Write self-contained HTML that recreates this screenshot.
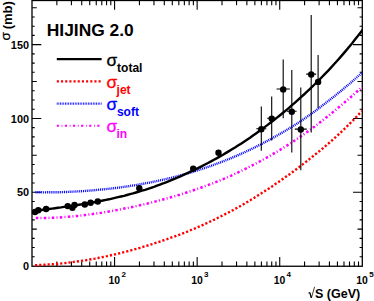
<!DOCTYPE html>
<html><head><meta charset="utf-8"><title>HIJING 2.0</title>
<style>html,body{margin:0;padding:0;background:#fff}body{width:374px;height:301px;overflow:hidden;font-family:"Liberation Sans",sans-serif}svg{display:block}</style></head>
<body>
<svg width="374" height="301" viewBox="0 0 374 301">
<rect x="0" y="0" width="374" height="301" fill="#fff"/>
<clipPath id="c"><rect x="32.0" y="0.5" width="330.30" height="266.45"/></clipPath>
<g stroke="#000" fill="none">
<rect x="32.0" y="0.5" width="330.30" height="265.75" stroke-width="1.3"/>
<path d="M56.86,266.25v-4.8M56.86,0.5v4.8M71.40,266.25v-4.8M71.40,0.5v4.8M81.72,266.25v-4.8M81.72,0.5v4.8M89.72,266.25v-4.8M89.72,0.5v4.8M96.26,266.25v-4.8M96.26,0.5v4.8M101.78,266.25v-4.8M101.78,0.5v4.8M106.57,266.25v-4.8M106.57,0.5v4.8M110.80,266.25v-4.8M110.80,0.5v4.8M114.58,266.25v-9.3M114.58,0.5v9.3M139.43,266.25v-4.8M139.43,0.5v4.8M153.97,266.25v-4.8M153.97,0.5v4.8M164.29,266.25v-4.8M164.29,0.5v4.8M172.29,266.25v-4.8M172.29,0.5v4.8M178.83,266.25v-4.8M178.83,0.5v4.8M184.36,266.25v-4.8M184.36,0.5v4.8M189.15,266.25v-4.8M189.15,0.5v4.8M193.37,266.25v-4.8M193.37,0.5v4.8M197.15,266.25v-9.3M197.15,0.5v9.3M222.01,266.25v-4.8M222.01,0.5v4.8M236.55,266.25v-4.8M236.55,0.5v4.8M246.87,266.25v-4.8M246.87,0.5v4.8M254.87,266.25v-4.8M254.87,0.5v4.8M261.41,266.25v-4.8M261.41,0.5v4.8M266.93,266.25v-4.8M266.93,0.5v4.8M271.72,266.25v-4.8M271.72,0.5v4.8M275.95,266.25v-4.8M275.95,0.5v4.8M279.73,266.25v-9.3M279.73,0.5v9.3M304.58,266.25v-4.8M304.58,0.5v4.8M319.12,266.25v-4.8M319.12,0.5v4.8M329.44,266.25v-4.8M329.44,0.5v4.8M337.44,266.25v-4.8M337.44,0.5v4.8M343.98,266.25v-4.8M343.98,0.5v4.8M349.51,266.25v-4.8M349.51,0.5v4.8M354.30,266.25v-4.8M354.30,0.5v4.8M358.52,266.25v-4.8M358.52,0.5v4.8M32.0,256.78h2.7M362.3,256.78h-2.7M32.0,247.55h2.7M362.3,247.55h-2.7M32.0,238.33h2.7M362.3,238.33h-2.7M32.0,229.11h4.8M362.3,229.11h-4.8M32.0,219.88h2.7M362.3,219.88h-2.7M32.0,210.66h2.7M362.3,210.66h-2.7M32.0,201.44h2.7M362.3,201.44h-2.7M32.0,192.22h9.3M362.3,192.22h-9.3M32.0,182.99h2.7M362.3,182.99h-2.7M32.0,173.77h2.7M362.3,173.77h-2.7M32.0,164.55h2.7M362.3,164.55h-2.7M32.0,155.32h4.8M362.3,155.32h-4.8M32.0,146.10h2.7M362.3,146.10h-2.7M32.0,136.88h2.7M362.3,136.88h-2.7M32.0,127.65h2.7M362.3,127.65h-2.7M32.0,118.43h9.3M362.3,118.43h-9.3M32.0,109.21h2.7M362.3,109.21h-2.7M32.0,99.98h2.7M362.3,99.98h-2.7M32.0,90.76h2.7M362.3,90.76h-2.7M32.0,81.54h4.8M362.3,81.54h-4.8M32.0,72.31h2.7M362.3,72.31h-2.7M32.0,63.09h2.7M362.3,63.09h-2.7M32.0,53.87h2.7M362.3,53.87h-2.7M32.0,44.65h9.3M362.3,44.65h-9.3M32.0,35.42h2.7M362.3,35.42h-2.7M32.0,26.20h2.7M362.3,26.20h-2.7M32.0,16.98h2.7M362.3,16.98h-2.7M32.0,7.75h4.8M362.3,7.75h-4.8" stroke-width="1.1"/>
</g>
<g clip-path="url(#c)" fill="none">
<path d="M35.0,265.2L38.0,265.1L41.0,265.0L44.0,264.8L47.0,264.6L50.0,264.4L53.0,264.2L56.0,264.0L59.0,263.7L62.0,263.4L65.0,263.1L68.0,262.7L71.0,262.3L74.0,261.9L77.0,261.5L80.0,261.1L83.0,260.6L86.0,260.2L89.0,259.6L92.0,259.1L95.0,258.6L98.0,258.0L101.0,257.4L104.0,256.8L107.0,256.2L110.0,255.5L113.0,254.8L116.0,254.1L119.0,253.4L122.0,252.7L125.0,251.9L128.0,251.1L131.0,250.3L134.0,249.5L137.0,248.6L140.0,247.8L143.0,246.9L146.0,246.0L149.0,245.1L152.0,244.2L155.0,243.2L158.0,242.2L161.0,241.2L164.0,240.2L167.0,239.2L170.0,238.1L173.0,237.0L176.0,235.9L179.0,234.8L182.0,233.6L185.0,232.5L188.0,231.3L191.0,230.0L194.0,228.8L197.0,227.5L200.0,226.2L203.0,224.9L206.0,223.5L209.0,222.1L212.0,220.7L215.0,219.3L218.0,217.8L221.0,216.3L224.0,214.8L227.0,213.3L230.0,211.7L233.0,210.1L236.0,208.4L239.0,206.8L242.0,205.1L245.0,203.3L248.0,201.6L251.0,199.8L254.0,198.0L257.0,196.1L260.0,194.2L263.0,192.3L266.0,190.3L269.0,188.4L272.0,186.4L275.0,184.3L278.0,182.3L281.0,180.2L284.0,178.1L287.0,176.0L290.0,173.9L293.0,171.7L296.0,169.5L299.0,167.2L302.0,164.9L305.0,162.6L308.0,160.3L311.0,157.9L314.0,155.5L317.0,153.1L320.0,150.7L323.0,148.2L326.0,145.6L329.0,143.0L332.0,140.4L335.0,137.7L338.0,135.0L341.0,132.2L344.0,129.3L347.0,126.4L350.0,123.4L353.0,120.4L356.0,117.3L359.0,114.2L362.0,111.1" stroke="#ff0000" stroke-width="2.4" stroke-dasharray="2.2 2.0"/>
<path d="M35.8,217.9L38.8,218.0L41.8,218.0L44.8,217.9L47.8,217.9L50.8,217.8L53.8,217.7L56.8,217.6L59.8,217.4L62.8,217.2L65.8,217.0L68.8,216.7L71.8,216.5L74.8,216.2L77.8,215.9L80.8,215.5L83.8,215.2L86.8,214.8L89.8,214.4L92.8,214.0L95.8,213.6L98.8,213.1L101.8,212.7L104.8,212.2L107.8,211.7L110.8,211.2L113.8,210.6L116.8,210.1L119.8,209.5L122.8,208.9L125.8,208.3L128.8,207.7L131.8,207.1L134.8,206.4L137.8,205.8L140.8,205.1L143.8,204.4L146.8,203.7L149.8,202.9L152.8,202.2L155.8,201.4L158.8,200.6L161.8,199.8L164.8,199.0L167.8,198.2L170.8,197.3L173.8,196.5L176.8,195.6L179.8,194.7L182.8,193.7L185.8,192.8L188.8,191.8L191.8,190.8L194.8,189.8L197.8,188.7L200.8,187.7L203.8,186.6L206.8,185.5L209.8,184.4L212.8,183.3L215.8,182.1L218.8,180.9L221.8,179.7L224.8,178.4L227.8,177.1L230.8,175.8L233.8,174.4L236.8,173.0L239.8,171.6L242.8,170.1L245.8,168.6L248.8,167.1L251.8,165.6L254.8,164.0L257.8,162.5L260.8,160.9L263.8,159.2L266.8,157.6L269.8,155.9L272.8,154.1L275.8,152.4L278.8,150.6L281.8,148.8L284.8,146.9L287.8,145.0L290.8,143.1L293.8,141.1L296.8,139.1L299.8,137.1L302.8,135.0L305.8,132.9L308.8,130.8L311.8,128.6L314.8,126.4L317.8,124.1L320.8,121.8L323.8,119.5L326.8,117.1L329.8,114.7L332.8,112.3L335.8,109.8L338.8,107.3L341.8,104.8L344.8,102.2L347.8,99.7L350.8,97.1L353.8,94.5L356.8,91.8L359.8,89.2L362.8,86.5" stroke="#ff00ff" stroke-width="2.5" stroke-dasharray="2.5 2.2 1.0 2.3"/>
<path d="M35.5,192.3L38.5,192.3L41.5,192.3L44.5,192.4L47.5,192.3L50.5,192.3L53.5,192.3L56.5,192.2L59.5,192.2L62.5,192.1L65.5,192.0L68.5,191.9L71.5,191.7L74.5,191.6L77.5,191.4L80.5,191.3L83.5,191.1L86.5,190.8L89.5,190.6L92.5,190.4L95.5,190.1L98.5,189.8L101.5,189.5L104.5,189.2L107.5,188.9L110.5,188.6L113.5,188.2L116.5,187.9L119.5,187.5L122.5,187.1L125.5,186.6L128.5,186.2L131.5,185.7L134.5,185.3L137.5,184.8L140.5,184.2L143.5,183.7L146.5,183.1L149.5,182.6L152.5,182.0L155.5,181.4L158.5,180.7L161.5,180.1L164.5,179.4L167.5,178.7L170.5,178.0L173.5,177.2L176.5,176.4L179.5,175.7L182.5,174.8L185.5,174.0L188.5,173.1L191.5,172.3L194.5,171.3L197.5,170.4L200.5,169.4L203.5,168.5L206.5,167.4L209.5,166.4L212.5,165.3L215.5,164.2L218.5,163.1L221.5,162.0L224.5,160.8L227.5,159.6L230.5,158.4L233.5,157.1L236.5,155.8L239.5,154.5L242.5,153.2L245.5,151.8L248.5,150.4L251.5,149.0L254.5,147.5L257.5,146.0L260.5,144.5L263.5,142.9L266.5,141.4L269.5,139.7L272.5,138.1L275.5,136.4L278.5,134.7L281.5,133.0L284.5,131.2L287.5,129.5L290.5,127.6L293.5,125.8L296.5,123.9L299.5,121.9L302.5,120.0L305.5,117.9L308.5,115.8L311.5,113.7L314.5,111.5L317.5,109.3L320.5,107.0L323.5,104.7L326.5,102.4L329.5,100.1L332.5,97.7L335.5,95.4L338.5,92.9L341.5,90.5L344.5,88.0L347.5,85.5L350.5,82.9L353.5,80.3L356.5,77.6L359.5,75.0L362.5,72.3" stroke="#0000ff" stroke-width="2.4" stroke-dasharray="1.0 0.9"/>
<path d="M34.0,211.2L37.0,210.7L40.0,210.3L43.0,209.8L46.0,209.4L49.0,209.0L52.0,208.6L55.0,208.2L58.0,207.8L61.0,207.4L64.0,206.9L67.0,206.5L70.0,206.1L73.0,205.6L76.0,205.2L79.0,204.7L82.0,204.3L85.0,203.8L88.0,203.3L91.0,202.8L94.0,202.2L97.0,201.7L100.0,201.1L103.0,200.5L106.0,199.9L109.0,199.3L112.0,198.6L115.0,197.9L118.0,197.2L121.0,196.5L124.0,195.8L127.0,195.0L130.0,194.2L133.0,193.4L136.0,192.5L139.0,191.6L142.0,190.7L145.0,189.8L148.0,188.8L151.0,187.8L154.0,186.8L157.0,185.7L160.0,184.6L163.0,183.5L166.0,182.3L169.0,181.1L172.0,179.9L175.0,178.7L178.0,177.4L181.0,176.1L184.0,174.7L187.0,173.3L190.0,171.9L193.0,170.5L196.0,169.1L199.0,167.6L202.0,166.1L205.0,164.5L208.0,163.0L211.0,161.4L214.0,159.7L217.0,158.1L220.0,156.4L223.0,154.7L226.0,152.9L229.0,151.1L232.0,149.3L235.0,147.5L238.0,145.6L241.0,143.7L244.0,141.7L247.0,139.7L250.0,137.7L253.0,135.6L256.0,133.5L259.0,131.3L262.0,129.1L265.0,126.9L268.0,124.6L271.0,122.3L274.0,120.0L277.0,117.6L280.0,115.2L283.0,112.8L286.0,110.3L289.0,107.8L292.0,105.2L295.0,102.6L298.0,99.9L301.0,97.2L304.0,94.5L307.0,91.7L310.0,88.8L313.0,86.0L316.0,83.0L319.0,80.1L322.0,77.0L325.0,73.9L328.0,70.8L331.0,67.6L334.0,64.3L337.0,61.0L340.0,57.6L343.0,54.1L346.0,50.6L349.0,47.0L352.0,43.4L355.0,39.6L358.0,35.8L361.0,31.9L364.0,28.0" stroke="#000" stroke-width="2.4"/>
</g>
<g stroke="#000" stroke-width="1.1">
<path d="M261.3,106.6V150.8M256.3,128.8H266.3M271.7,96.4V140.5M267.2,118.2H276.2M283.2,59.6V118.3M276.6,89.0H289.8M291.8,70V152.5M287.0,111.3H296.6M300.8,87.5V170.2M294.8,129.1H306.8M311.2,15V132.4M306.2,74.1H316.2M318.1,55V108.1"/>
</g><g fill="#000">
<circle cx="35" cy="212.0" r="3.2"/>
<circle cx="38.3" cy="210.3" r="3.2"/>
<circle cx="46.1" cy="209.0" r="3.2"/>
<circle cx="67.7" cy="206.1" r="3.2"/>
<circle cx="72.4" cy="207.8" r="3.2"/>
<circle cx="74.5" cy="205.0" r="3.2"/>
<circle cx="84.8" cy="204.5" r="3.2"/>
<circle cx="90.6" cy="202.8" r="3.2"/>
<circle cx="97.8" cy="201.5" r="3.2"/>
<circle cx="139.3" cy="188.2" r="3.2"/>
<circle cx="193.2" cy="168.7" r="3.2"/>
<circle cx="218.5" cy="152.8" r="3.2"/>
<circle cx="261.3" cy="129.2" r="3.2"/>
<circle cx="271.7" cy="118.6" r="3.2"/>
<circle cx="283.2" cy="89.4" r="3.2"/>
<circle cx="291.8" cy="111.7" r="3.2"/>
<circle cx="300.8" cy="129.5" r="3.2"/>
<circle cx="311.2" cy="74.5" r="3.2"/>
<circle cx="318.1" cy="81.9" r="3.2"/>
</g>
<g fill="none">
<path d="M56.8,59.2H101.6" stroke="#000" stroke-width="2.3"/>
<path d="M56.8,81.4H101.6" stroke="#ff0000" stroke-width="2.1" stroke-dasharray="2.1 2.08"/>
<path d="M56.8,103.6H101.6" stroke="#0000ff" stroke-width="2.3" stroke-dasharray="0.8 0.84"/>
<path d="M56.8,125.7H101.6" stroke="#ff00ff" stroke-width="2.0" stroke-dasharray="2.1 2.7 0.8 2.5"/>
</g>
<text x="46.8" y="36" font-family="'Liberation Sans',sans-serif" font-weight="bold" font-size="17.4" fill="#000">HIJING 2.0</text>
<g font-family="'Liberation Sans',sans-serif" font-weight="bold" font-size="10.9" fill="#000" text-anchor="end">
<text x="29" y="270.1">0</text>
<text x="29" y="196.3">50</text>
<text x="29" y="122.5">100</text>
<text x="29" y="48.75">150</text>
</g>
<g font-family="'Liberation Sans',sans-serif" font-weight="bold" font-size="10.4" fill="#000">
<text x="108.6" y="284.1">10</text>
<text x="191.2" y="284.1">10</text>
<text x="273.8" y="284.1">10</text>
<text x="356.3" y="284.1">10</text>
</g>
<g font-family="'Liberation Sans',sans-serif" font-weight="bold" font-size="8" fill="#000">
<text x="121.4" y="276.6">2</text>
<text x="204" y="276.6">3</text>
<text x="286.6" y="276.6">4</text>
<text x="369.2" y="276.6">5</text>
</g>
<text x="315" y="298.3" font-family="'Liberation Sans',sans-serif" font-weight="bold" font-size="12.5" fill="#000">S (GeV)</text>
<path d="M308.2,293.2L309.8,292.4L311.4,298.0L314.6,286.8" fill="none" stroke="#000" stroke-width="0.75" stroke-linejoin="miter"/>
<path d="M309.8,292.6L311.3,297.6" fill="none" stroke="#000" stroke-width="1.2"/>
<text x="0" y="0" font-family="'Liberation Sans',sans-serif" font-weight="bold" font-size="13" fill="#000" transform="translate(11.7,29.3) rotate(-90)">(mb)</text>
<text x="0" y="0" font-family="'Liberation Sans',sans-serif" font-size="13.6" fill="#000" stroke="#000" stroke-width="0.25" transform="translate(10.0,40.6) rotate(-90)">σ</text>
<text x="106.4" y="66.25" font-family="'Liberation Sans',sans-serif" font-size="17.3" fill="#000" stroke="#000" stroke-width="0.3">σ</text>
<text x="117.1" y="71.8" font-family="'Liberation Sans',sans-serif" font-weight="bold" font-size="12" fill="#000">total</text>
<text x="106.4" y="88.25" font-family="'Liberation Sans',sans-serif" font-size="17.3" fill="#ff0000" stroke="#ff0000" stroke-width="0.3">σ</text>
<text x="116.6" y="93.8" font-family="'Liberation Sans',sans-serif" font-weight="bold" font-size="12" fill="#ff0000">jet</text>
<text x="106.4" y="110.25" font-family="'Liberation Sans',sans-serif" font-size="17.3" fill="#0000ff" stroke="#0000ff" stroke-width="0.3">σ</text>
<text x="116.9" y="115.8" font-family="'Liberation Sans',sans-serif" font-weight="bold" font-size="12" fill="#0000ff">soft</text>
<text x="106.4" y="132.25" font-family="'Liberation Sans',sans-serif" font-size="17.3" fill="#ff00ff" stroke="#ff00ff" stroke-width="0.3">σ</text>
<text x="116.5" y="137.8" font-family="'Liberation Sans',sans-serif" font-weight="bold" font-size="12" fill="#ff00ff">in</text>
</svg>
</body></html>
